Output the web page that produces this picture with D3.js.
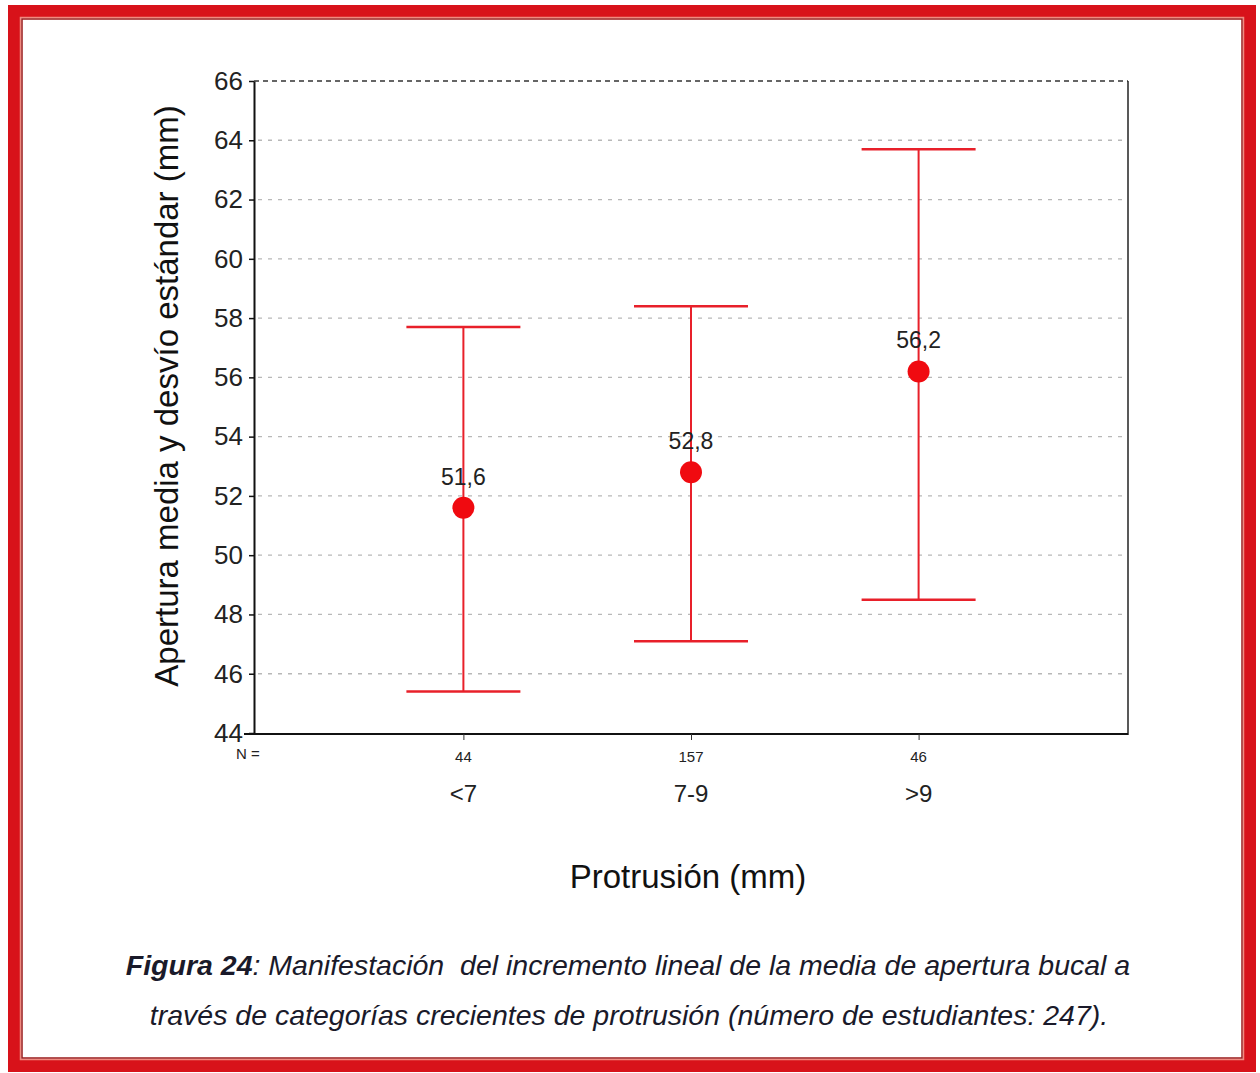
<!DOCTYPE html>
<html>
<head>
<meta charset="utf-8">
<script src="https://cdnjs.cloudflare.com/ajax/libs/d3/7.8.5/d3.min.js"></script>
<style>
  body { margin: 0; background: #fff; }
  svg { display: block; font-family: "Liberation Sans", Arial, sans-serif; }
</style>
</head>
<body>
<script>
// data
var categories = ["<7", "7-9", ">9"];
var counts = [44, 157, 46];
var means = [51.6, 52.8, 56.2];
var upper = [57.7, 58.4, 63.7];
var lower = [45.4, 47.1, 48.5];
var meanLabels = ["51,6", "52,8", "56,2"];
var yTicks = [44, 46, 48, 50, 52, 54, 56, 58, 60, 62, 64, 66];

var W = 1260, H = 1073;
var plot = {left: 254, right: 1128, top: 81, bottom: 733};

var svg = d3.select("body").append("svg")
    .attr("width", W)
    .attr("height", H);

// red frame
svg.append("rect")
    .attr("x", 14).attr("y", 11)
    .attr("width", 1236).attr("height", 1055)
    .attr("fill", "none")
    .attr("stroke", "#d8121a")
    .attr("stroke-width", 12);
svg.append("rect")
    .attr("x", 20.5).attr("y", 17.5)
    .attr("width", 1223).attr("height", 1042)
    .attr("fill", "none")
    .attr("stroke", "#f08a80")
    .attr("stroke-width", 1.5);
svg.append("rect")
    .attr("x", 22).attr("y", 19)
    .attr("width", 1220).attr("height", 1039)
    .attr("fill", "none")
    .attr("stroke", "#9a1a1a")
    .attr("stroke-width", 1.5);

var data = categories.map(function(c, i) {
    return {cat: c, n: counts[i], mean: means[i], hi: upper[i], lo: lower[i], label: meanLabels[i]};
});

var x = d3.scalePoint()
    .domain(categories)
    .range([plot.left, plot.right])
    .padding(0.92);

var y = d3.scaleLinear()
    .domain([44, 66])
    .range([plot.bottom, plot.top]);

// gridlines
svg.selectAll(".grid")
    .data(yTicks.filter(d => d > 44 && d < 66))
    .enter()
    .append("line")
    .attr("class", "grid")
    .attr("x1", plot.left + 4)
    .attr("x2", plot.right)
    .attr("y1", d => y(d))
    .attr("y2", d => y(d))
    .attr("stroke", "#b8b8b8")
    .attr("stroke-width", 1.3)
    .attr("stroke-dasharray", "4,6");

// top dashed line at 66
svg.append("line")
    .attr("x1", plot.left).attr("x2", plot.right)
    .attr("y1", y(66)).attr("y2", y(66))
    .attr("stroke", "#333")
    .attr("stroke-width", 1.5)
    .attr("stroke-dasharray", "5,4");

// right border
svg.append("line")
    .attr("x1", plot.right).attr("x2", plot.right)
    .attr("y1", y(66)).attr("y2", plot.bottom + 2)
    .attr("stroke", "#222")
    .attr("stroke-width", 1.5);

// y axis
var yAxis = svg.append("g")
    .attr("transform", "translate(" + plot.left + ",0)")
    .call(d3.axisLeft(y).tickValues(yTicks).tickSize(5).tickPadding(6).tickSizeOuter(0));
yAxis.select(".domain").attr("stroke", "#111").attr("stroke-width", 2);
yAxis.selectAll(".tick line").attr("stroke", "#111").attr("stroke-width", 1.5);
yAxis.selectAll(".tick text")
    .attr("font-size", 26)
    .attr("fill", "#222")
    .style("font-family", "Liberation Sans, Arial, sans-serif");

// x axis
var xAxis = svg.append("g")
    .attr("transform", "translate(0," + (plot.bottom + 1) + ")")
    .call(d3.axisBottom(x).tickSize(6).tickSizeOuter(0).tickFormat(""));
xAxis.select(".domain").attr("stroke", "#111").attr("stroke-width", 2);
xAxis.selectAll(".tick line").attr("stroke", "#333").attr("stroke-width", 1);
xAxis.select(".domain").attr("d", "M" + (plot.left - 10) + ",0H" + plot.right);

// N row
svg.append("text")
    .attr("x", 248).attr("y", 759)
    .attr("text-anchor", "middle")
    .attr("font-size", 15)
    .attr("fill", "#222")
    .text("N =");
svg.selectAll(".ncount")
    .data(data)
    .enter()
    .append("text")
    .attr("class", "ncount")
    .attr("x", d => x(d.cat))
    .attr("y", 762)
    .attr("text-anchor", "middle")
    .attr("font-size", 15)
    .attr("fill", "#222")
    .text(d => d.n);

// category labels
svg.selectAll(".catlabel")
    .data(data)
    .enter()
    .append("text")
    .attr("class", "catlabel")
    .attr("x", d => x(d.cat))
    .attr("y", 802)
    .attr("text-anchor", "middle")
    .attr("font-size", 24)
    .attr("fill", "#222")
    .text(d => d.cat);

// error bars
var capHalf = 57;
var bars = svg.selectAll(".errbar")
    .data(data)
    .enter()
    .append("g")
    .attr("class", "errbar");
bars.append("line")
    .attr("x1", d => x(d.cat)).attr("x2", d => x(d.cat))
    .attr("y1", d => y(d.hi)).attr("y2", d => y(d.lo))
    .attr("stroke", "#e8202a").attr("stroke-width", 2);
bars.append("line")
    .attr("x1", d => x(d.cat) - capHalf).attr("x2", d => x(d.cat) + capHalf)
    .attr("y1", d => y(d.hi)).attr("y2", d => y(d.hi))
    .attr("stroke", "#e8202a").attr("stroke-width", 2.5);
bars.append("line")
    .attr("x1", d => x(d.cat) - capHalf).attr("x2", d => x(d.cat) + capHalf)
    .attr("y1", d => y(d.lo)).attr("y2", d => y(d.lo))
    .attr("stroke", "#e8202a").attr("stroke-width", 2.5);
bars.append("circle")
    .attr("cx", d => x(d.cat))
    .attr("cy", d => y(d.mean))
    .attr("r", 11)
    .attr("fill", "#f00a10");
bars.append("text")
    .attr("x", d => x(d.cat))
    .attr("y", d => y(d.mean) - 23)
    .attr("text-anchor", "middle")
    .attr("font-size", 23)
    .attr("fill", "#222")
    .text(d => d.label);

// axis titles
svg.append("text")
    .attr("transform", "translate(178,396) rotate(-90)")
    .attr("text-anchor", "middle")
    .attr("font-size", 33)
    .attr("fill", "#111")
    .text("Apertura media y desvío estándar (mm)");

svg.append("text")
    .attr("x", 688).attr("y", 888)
    .attr("text-anchor", "middle")
    .attr("font-size", 33)
    .attr("fill", "#111")
    .text("Protrusión (mm)");

// caption
var cap1 = svg.append("text")
    .attr("x", 628).attr("y", 975)
    .attr("text-anchor", "middle")
    .attr("font-size", 28.5)
    .attr("font-style", "italic")
    .attr("fill", "#1a1a2a");
cap1.append("tspan").attr("font-weight", "bold").text("Figura 24");
cap1.append("tspan").text(": Manifestación\u00a0 del incremento lineal de la media de apertura bucal a");

svg.append("text")
    .attr("x", 629).attr("y", 1025)
    .attr("text-anchor", "middle")
    .attr("font-size", 28.5)
    .attr("font-style", "italic")
    .attr("fill", "#1a1a2a")
    .text("través de categorías crecientes de protrusión (número de estudiantes: 247).");
</script>
</body>
</html>
